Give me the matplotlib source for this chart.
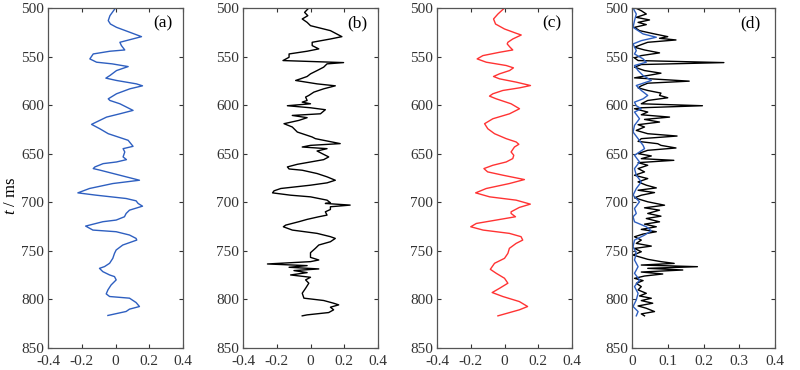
import numpy as np
import matplotlib
matplotlib.use("Agg")
import matplotlib.pyplot as plt

plt.rcParams['font.family'] = ['Liberation Serif', 'DejaVu Serif']
plt.rcParams['mathtext.fontset'] = 'custom'
plt.rcParams['mathtext.it'] = 'Liberation Serif:italic'
plt.rcParams['mathtext.rm'] = 'Liberation Serif'

# (a) blue trace
t_a = [500.0, 507.9, 513.0, 516.5, 519.9, 525.0, 529.5, 535.3, 538.7, 543.2, 544.5, 547.3,
       552.4, 555.8, 557.5, 560.3, 564.4, 569.5, 572.2, 574.6, 578.1, 580.1, 583.2, 588.3,
       593.5, 595.2, 598.6, 605.4, 608.9, 612.3, 619.8, 624.3, 629.4, 632.8, 636.2, 642.4,
       644.8, 648.2, 653.3, 656.1, 658.5, 660.2, 663.6, 665.3, 667.0, 671.0, 677.3, 680.7,
       685.8, 690.3, 692.7, 696.1, 698.5, 701.2, 704.0, 708.1, 711.5, 714.9, 718.3, 720.0,
       724.5, 728.6, 730.3, 733.7, 737.2, 738.9, 744.0, 749.1, 752.6, 757.7, 762.8, 766.2,
       768.0, 771.4, 774.8, 776.5, 779.9, 785.1, 790.2, 794.3, 797.0, 798.7, 803.2, 807.3,
       810.0, 812.4, 816.5]
x_a = [0.0, -0.033, -0.043, -0.03, 0.006, 0.085, 0.154, 0.026, 0.035, 0.055, -0.033, -0.132,
       -0.152, -0.112, -0.02, 0.075, 0.006, -0.033, -0.057, 0.006, 0.124, 0.16, 0.085, 0.006,
       -0.043, -0.033, 0.026, 0.104, 0.026, -0.053, -0.142, -0.093, -0.043, 0.016, 0.075, 0.104,
       0.045, 0.055, 0.045, 0.065, 0.006, -0.073, -0.122, -0.132, -0.09, 0.0, 0.142, -0.016,
       -0.154, -0.223, -0.114, 0.063, 0.122, 0.134, 0.16, 0.083, 0.063, 0.053, 0.004, -0.075,
       -0.177, -0.134, 0.004, 0.083, 0.122, 0.126, 0.043, 0.004, -0.006, -0.016, -0.035, -0.065,
       -0.095, -0.075, -0.035, -0.006, 0.004, -0.026, -0.045, -0.055, -0.035, 0.083, 0.122, 0.142,
       0.083, 0.063, -0.045]

# (b) black trace
t_b = [500.0, 504.5, 507.9, 511.3, 514.8, 518.2, 523.3, 529.5, 531.9, 535.3, 538.7, 542.1,
       544.5, 547.3, 550.7, 554.1, 556.2, 557.5, 560.9, 564.4, 567.8, 570.5, 572.9, 574.6,
       578.1, 580.1, 583.2, 586.6, 590.0, 591.7, 595.2, 596.9, 598.6, 600.6, 602.7, 604.7,
       608.9, 610.6, 612.9, 615.7, 619.1, 622.5, 627.7, 632.8, 634.5, 639.6, 641.4, 643.1,
       644.8, 647.2, 649.9, 653.3, 656.1, 658.5, 660.9, 663.6, 665.7, 667.0, 670.4, 673.8,
       677.3, 680.0, 682.4, 685.8, 688.2, 690.3, 692.7, 694.4, 697.8, 700.5, 701.2, 702.9,
       704.6, 707.4, 709.8, 713.2, 714.9, 717.6, 720.0, 723.5, 725.2, 728.6, 732.0, 735.4,
       737.2, 740.6, 744.0, 747.4, 751.9, 756.7, 759.4, 761.1, 763.5, 765.2, 766.9, 768.6,
       770.3, 772.4, 774.8, 777.2, 779.9, 783.3, 788.5, 793.6, 798.7, 801.1, 803.9, 805.6,
       808.0, 810.7, 813.5, 815.9, 816.9]
x_b = [-0.01, -0.035, -0.016, -0.049, -0.02, 0.0, 0.118, 0.186, 0.118, 0.01, 0.01, 0.049,
       -0.02, -0.127, -0.127, -0.163, 0.196, 0.098, 0.078, 0.039, 0.0, -0.02, -0.059, -0.088,
       0.039, 0.147, 0.078, 0.02, -0.01, -0.029, -0.02, -0.049, 0.0, -0.137, 0.0, 0.088,
       0.059, -0.108, -0.02, -0.069, -0.157, -0.108, -0.078, 0.01, 0.029, 0.176, 0.0, -0.049,
       0.098, 0.039, 0.069, 0.108, 0.078, 0.0, -0.078, -0.137, -0.127, -0.049, 0.039, 0.098,
       0.147, 0.098, 0.0, -0.176, -0.216, -0.225, -0.118, 0.0, 0.098, 0.118, 0.088, 0.235,
       0.118, 0.118, 0.088, 0.098, 0.049, -0.02, -0.069, -0.147, -0.161, -0.108, 0.039, 0.118,
       0.147, 0.118, 0.049, 0.029, 0.0, 0.0, 0.049, 0.0, -0.255, -0.02, -0.127, 0.049,
       -0.098, -0.02, -0.118, 0.0, -0.029, -0.01, -0.029, -0.049, -0.039, 0.078, 0.137, 0.167,
       0.118, 0.137, 0.108, -0.02, -0.049]

# (c) red trace
t_c = [500.0, 506.2, 511.3, 516.5, 521.6, 526.0, 527.8, 531.9, 535.3, 537.0, 540.4, 543.2,
       545.6, 549.0, 552.4, 555.8, 559.2, 561.6, 564.4, 567.8, 570.5, 572.9, 576.3, 579.8,
       582.2, 584.9, 588.3, 590.7, 593.5, 598.6, 603.7, 608.9, 614.0, 619.1, 624.3, 629.4,
       634.5, 637.9, 640.3, 643.1, 648.2, 651.6, 655.0, 658.5, 661.9, 665.3, 668.7, 672.1,
       676.6, 680.7, 685.8, 690.3, 694.4, 697.8, 701.9, 705.3, 709.8, 711.5, 714.9, 718.3,
       721.8, 725.2, 728.6, 732.0, 735.4, 738.9, 742.3, 747.4, 752.6, 757.7, 762.8, 769.0,
       773.1, 778.2, 783.3, 788.5, 792.9, 797.0, 802.2, 807.3, 810.7, 816.9]
x_c = [0.0, -0.039, -0.065, -0.053, 0.0, 0.069, 0.099, 0.049, 0.02, 0.016, 0.033, 0.049,
       -0.03, -0.128, -0.162, -0.108, 0.01, 0.053, 0.03, -0.03, -0.065, -0.03, 0.069, 0.154,
       0.089, -0.01, -0.069, -0.089, -0.049, 0.039, 0.089, 0.03, -0.069, -0.118, -0.099, -0.059,
       0.01, 0.069, 0.085, 0.059, 0.039, 0.055, 0.049, 0.01, -0.069, -0.122, -0.1, -0.01,
       0.118, 0.029, -0.108, -0.171, -0.088, 0.069, 0.153, 0.088, 0.039, 0.039, 0.065, -0.049,
       -0.167, -0.2, -0.127, 0.029, 0.098, 0.108, 0.069, 0.029, 0.02, 0.0, -0.059, -0.084,
       -0.049, 0.0, 0.02, -0.029, -0.073, -0.01, 0.088, 0.137, 0.088, -0.039]

# (d) black trace
t_d1 = [500.0, 502.8, 506.2, 509.6, 512.3, 514.8, 517.1, 519.9, 523.3, 526.7, 529.5, 531.2,
        532.9, 535.3, 537.7, 540.4, 543.2, 546.2, 549.0, 551.4, 554.1, 556.2, 558.2, 560.9,
        564.4, 567.1, 569.5, 571.9, 575.3, 577.4, 580.1, 582.2, 584.9, 587.6, 590.0, 592.4,
        595.2, 598.6, 600.6, 602.7, 603.7, 607.1, 609.9, 612.3, 614.7, 617.4, 620.1, 622.5,
        626.0, 629.4, 631.8, 634.5, 637.3, 639.7, 641.4, 644.1, 646.5, 649.9, 652.3, 655.1,
        656.8, 659.2, 661.9, 665.3, 668.7, 672.2, 675.6, 679.0, 682.4, 685.2, 687.6, 690.0,
        692.7, 695.4, 699.5, 703.0, 705.7, 708.1, 711.5, 714.3, 716.7, 720.1, 722.5, 725.2,
        727.9, 730.3, 732.7, 735.5, 738.9, 742.3, 745.1, 747.5, 750.9, 754.3, 758.7, 761.1,
        762.9, 764.6, 766.3, 768.0, 769.7, 771.8, 773.8, 775.9, 778.3, 780.6, 783.4, 786.8,
        790.2, 793.7, 796.4, 798.8, 801.2, 803.9, 806.7, 809.1, 812.5, 814.9, 816.9]
x_d1 = [0.01, 0.026, 0.04, 0.012, 0.049, 0.017, 0.04, 0.007, 0.021, 0.063, 0.1, 0.077,
        0.123, 0.044, 0.026, 0.007, 0.035, 0.077, 0.026, 0.007, 0.017, 0.257, 0.026, 0.007,
        0.035, 0.081, 0.044, 0.007, 0.16, 0.044, 0.026, 0.017, 0.044, 0.081, 0.077, 0.1,
        0.044, 0.026, 0.197, 0.026, 0.007, 0.044, 0.026, 0.105, 0.035, 0.077, 0.017, 0.035,
        0.012, 0.044, 0.126, 0.026, 0.017, 0.072, 0.081, 0.123, 0.044, 0.017, 0.054, 0.026,
        0.117, 0.017, 0.044, 0.017, 0.035, 0.007, 0.044, 0.017, 0.04, 0.068, 0.017, 0.063,
        0.026, 0.007, 0.044, 0.091, 0.035, 0.077, 0.044, 0.081, 0.04, 0.077, 0.035, 0.068,
        0.026, 0.068, 0.031, 0.007, 0.026, 0.012, 0.054, 0.007, 0.026, 0.003, 0.044, 0.081,
        0.118, 0.026, 0.183, 0.044, 0.142, 0.026, 0.086, 0.035, 0.007, 0.031, 0.012, 0.026,
        0.017, 0.04, 0.021, 0.054, 0.026, 0.058, 0.017, 0.04, 0.063, 0.026, 0.035]

# (d) blue trace
t_d2 = [500.0, 506.2, 513.0, 519.9, 526.7, 530.1, 533.6, 537.0, 543.9, 547.3, 552.4, 555.8,
        559.2, 564.4, 569.5, 574.6, 579.8, 584.9, 590.0, 593.5, 596.9, 600.6, 603.7, 607.1,
        614.0, 620.8, 627.7, 634.5, 641.4, 644.8, 651.6, 658.5, 665.3, 672.2, 679.0, 685.9,
        692.7, 699.5, 706.4, 711.5, 714.9, 720.1, 725.2, 729.3, 733.8, 738.9, 745.7, 752.6,
        759.4, 766.3, 773.1, 779.9, 786.8, 793.7, 800.5, 807.3, 812.5, 816.9]
x_d2 = [0.003, 0.012, 0.007, 0.003, 0.031, 0.068, 0.026, 0.003, 0.012, 0.007, 0.031, 0.04,
        0.007, 0.017, 0.031, 0.054, 0.012, 0.026, 0.044, 0.031, 0.007, 0.012, 0.026, 0.007,
        0.021, 0.007, 0.003, 0.017, 0.031, 0.035, 0.007, 0.021, 0.007, 0.012, 0.026, 0.012,
        0.003, 0.021, 0.007, 0.012, 0.003, 0.007, 0.04, 0.054, 0.035, 0.007, 0.003, 0.012,
        0.007, 0.017, 0.007, 0.021, 0.007, 0.017, 0.012, 0.003, 0.017, 0.012]

blue = '#2e5fc0'
red = '#ff3333'

fig = plt.figure(figsize=(8, 3.7), dpi=100)
lefts = [48, 243, 437, 632]
widths = [135, 135, 135, 143]
axes = []
for l, w in zip(lefts, widths):
    axes.append(fig.add_axes([l / 800, 22 / 370, w / 800, 340 / 370]))

axes[0].plot(x_a, t_a, color=blue, lw=1)
axes[1].plot(x_b, t_b, color='black', lw=1)
axes[2].plot(x_c, t_c, color=red, lw=1)
axes[3].plot(x_d1, t_d1, color='black', lw=1)
axes[3].plot(x_d2, t_d2, color=blue, lw=1)

labels = ['(a)', '(b)', '(c)', '(d)']
for i, ax in enumerate(axes):
    ax.set_ylim(850, 500)
    ax.set_yticks(np.arange(500, 851, 50))
    if i < 3:
        ax.set_xlim(-0.4, 0.4)
        ax.set_xticks([-0.4, -0.2, 0, 0.2, 0.4])
        ax.set_xticklabels(['-0.4', '-0.2', '0', '0.2', '0.4'])
    else:
        ax.set_xlim(0, 0.4)
        ax.set_xticks([0, 0.1, 0.2, 0.3, 0.4])
        ax.set_xticklabels(['0', '0.1', '0.2', '0.3', '0.4'])
    ax.tick_params(direction='in', top=True, right=True, length=3, width=0.8,
                   labelsize=11, colors='#333333')
    ax.tick_params(axis='x', pad=5)
    ax.tick_params(axis='y', pad=3)
    for s in ax.spines.values():
        s.set_color('#555555')
        s.set_linewidth(0.9)
    ax.text(0.85 if i < 3 else 0.83, 0.955, labels[i], transform=ax.transAxes,
            ha='center', va='center', fontsize=12.5)

fig.text(0.014, 0.47, r'$t$ / ms', rotation=90, ha='center', va='center', fontsize=12)

fig.savefig('out.png', dpi=100)
